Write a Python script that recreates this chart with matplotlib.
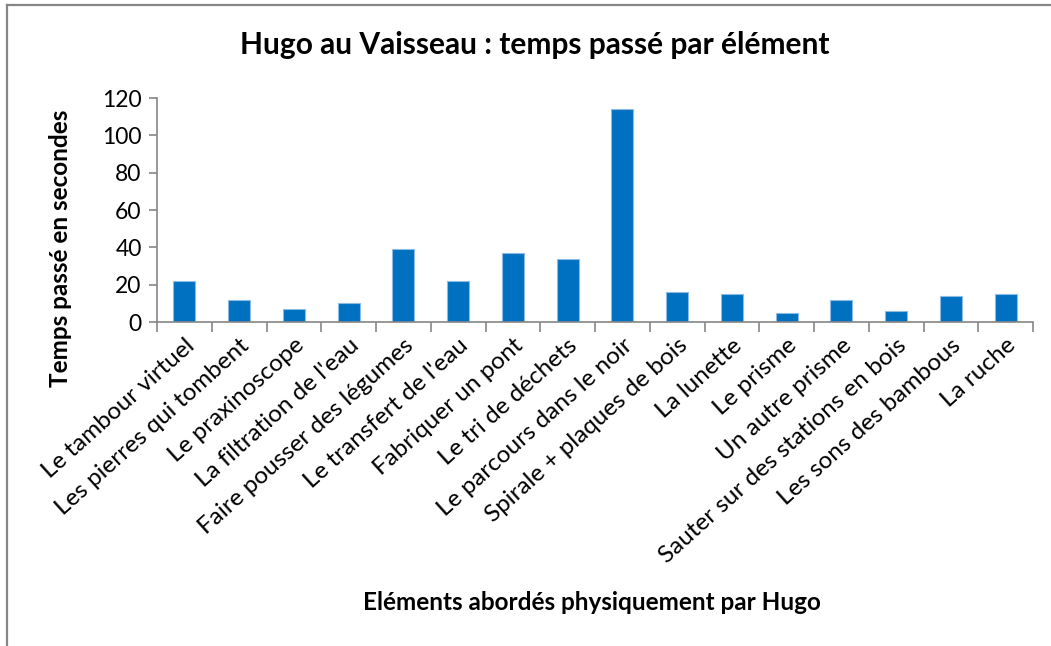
import matplotlib.pyplot as plt
from matplotlib.lines import Line2D
import numpy as np

# Categories and values (seconds)
categories = [
    "Le tambour virtuel",
    "Les pierres qui tombent",
    "Le praxinoscope",
    "La filtration de l'eau",
    "Faire pousser des légumes",
    "Le transfert de l'eau",
    "Fabriquer un pont",
    "Le tri de déchets",
    "Le parcours dans le noir",
    "Spirale + plaques de bois",
    "La lunette",
    "Le prisme",
    "Un autre prisme",
    "Sauter sur des stations en bois",
    "Les sons des bambous",
    "La ruche",
]
seconds = [22, 12, 7, 10, 39, 22, 37, 34, 114, 16, 15, 5, 12, 6, 14, 15]
y_ticks = [0, 20, 40, 60, 80, 100, 120]

plt.rcParams['font.family'] = ['Lato', 'DejaVu Sans']

fig = plt.figure(figsize=(10.51, 6.46), dpi=100)
ax = fig.add_axes([0.1494, 0.5015, 0.8335, 0.3467])

x = np.arange(len(categories))
ax.bar(x, seconds, width=0.4, color='#0070C0', edgecolor='#8dbbe4', linewidth=0.8)

ax.set_xlim(-0.5, len(categories) - 0.5)
ax.set_ylim(0, 120)
ax.set_yticks(y_ticks)
ax.tick_params(axis='y', labelsize=16.5, length=6, width=1.2, color='#868686', pad=5)

ax.set_xticks(x)
ax.set_xticklabels(categories, rotation=42, ha='right', rotation_mode='anchor', fontsize=17.5)
ax.tick_params(axis='x', which='major', length=0, pad=9)
ax.set_xticks(np.arange(-0.5, len(categories)), minor=True)
ax.tick_params(axis='x', which='minor', length=7, width=1.2, color='#868686')

for side in ['top', 'right']:
    ax.spines[side].set_visible(False)
for side in ['left', 'bottom']:
    ax.spines[side].set_color('#868686')
    ax.spines[side].set_linewidth(1.2)

fig.text(0.058, 0.616, 'Temps passé en secondes', fontsize=17.5, fontweight='bold',
         rotation=90, ha='center', va='center')
fig.text(0.563, 0.067, 'Eléments abordés physiquement par Hugo', fontsize=17.5,
         fontweight='bold', ha='center', va='center')
fig.text(0.509, 0.930, 'Hugo au Vaisseau : temps passé par élément', fontsize=21.5,
         fontweight='bold', ha='center', va='center')

# chart frame: only top and left edges are visible in the crop
fig.lines.append(Line2D([0.0067, 1.0], [0.9915, 0.9915], transform=fig.transFigure,
                        color='#868686', linewidth=1.6))
fig.lines.append(Line2D([0.0067, 0.0067], [0.0, 0.9915], transform=fig.transFigure,
                        color='#868686', linewidth=1.6))

fig.savefig('out.png', dpi=100)
